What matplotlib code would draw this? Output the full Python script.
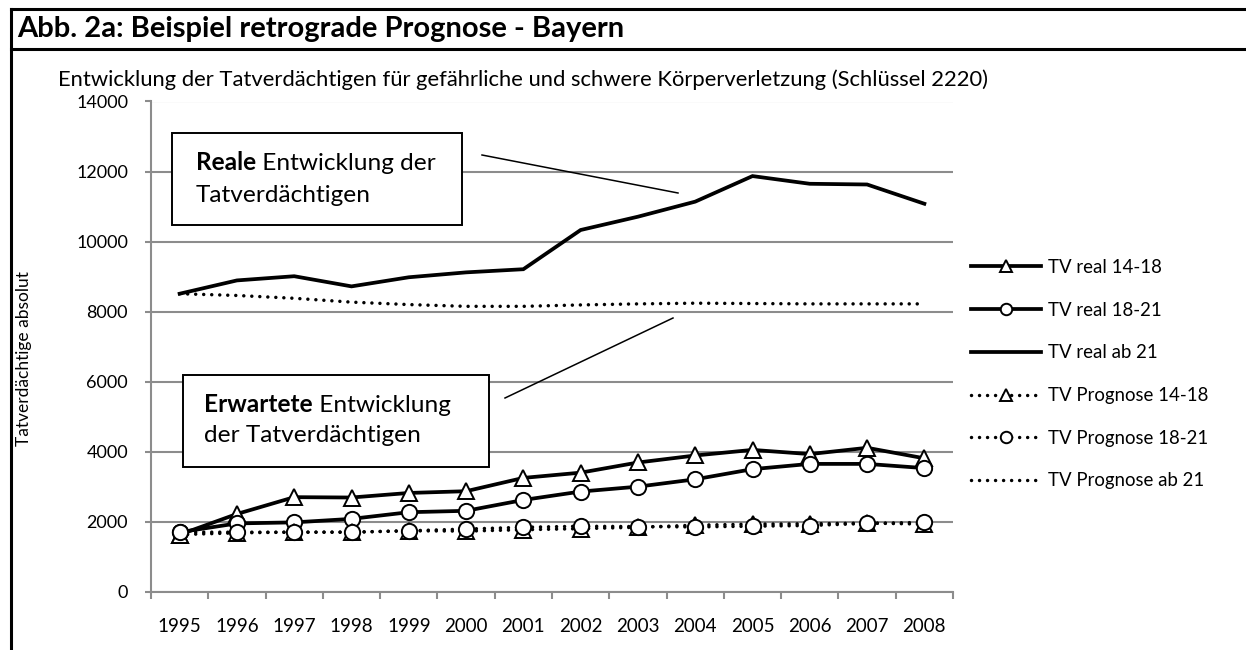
import matplotlib.pyplot as plt
from matplotlib.lines import Line2D
from matplotlib.patches import Rectangle

plt.rcParams['font.family'] = ['Lato', 'DejaVu Sans']

years = [str(y) for y in range(1995, 2009)]
real_14_18 = [1630, 2220, 2700, 2690, 2820, 2870, 3250, 3400, 3690, 3890, 4050, 3930, 4110, 3810]
real_18_21 = [1700, 1950, 1980, 2080, 2270, 2310, 2620, 2860, 3000, 3210, 3500, 3650, 3650, 3530]
real_ab_21 = [8510, 8890, 9010, 8720, 8980, 9120, 9210, 10330, 10710, 11140, 11870, 11650, 11630, 11080]
prog_14_18 = [1630, 1680, 1700, 1700, 1740, 1730, 1770, 1800, 1840, 1900, 1930, 1940, 1960, 1930]
prog_18_21 = [1700, 1700, 1700, 1700, 1740, 1790, 1840, 1870, 1860, 1850, 1870, 1890, 1950, 1980]
prog_ab_21 = [8510, 8460, 8380, 8270, 8200, 8150, 8150, 8190, 8220, 8240, 8230, 8220, 8220, 8220]
labels = ["TV real 14-18", "TV real 18-21", "TV real ab 21",
          "TV Prognose 14-18", "TV Prognose 18-21", "TV Prognose ab 21"]

W, H = 1246, 650
fig = plt.figure(figsize=(W / 100, H / 100), dpi=100)


def fx(px):
    return px / W


def fy(py):
    return 1 - py / H


# frame lines of the figure box
for xs, ys in [((11, W), (9, 9)), ((11, W), (49, 49)), ((11, 11), (9, H))]:
    fig.add_artist(Line2D([fx(x) for x in xs], [fy(y) for y in ys], color="black", lw=2.2))

fig.text(fx(17), fy(29), "Abb. 2a: Beispiel retrograde Prognose - Bayern",
         fontsize=21, fontweight="bold", va="center", ha="left")
fig.text(fx(58), fy(80), "Entwicklung der Tatverdächtigen für gefährliche und schwere Körperverletzung (Schlüssel 2220)",
         fontsize=15.8, va="center", ha="left")

ax = fig.add_axes([fx(151), fy(591.7), fx(953 - 151), (591.7 - 101.5) / H])
x = list(range(len(years)))

solid = dict(color="black", lw=2.7, solid_joinstyle="miter")
dotted = dict(color="black", lw=2.5, linestyle=(0, (0.01, 2.3)), dash_capstyle="round")
mk = dict(markersize=11, markerfacecolor="white", markeredgecolor="black", markeredgewidth=1.4)

h1, = ax.plot(x, real_14_18, marker="^", **solid, **mk)
h2, = ax.plot(x, real_18_21, marker="o", **solid, **mk)
h3, = ax.plot(x, real_ab_21, **solid)
h4, = ax.plot(x, prog_14_18, marker="^", **dotted, **mk)
h5, = ax.plot(x, prog_18_21, marker="o", **dotted, **mk)
h6, = ax.plot(x, prog_ab_21, **dotted)

ax.set_xlim(-0.5, len(years) - 0.5)
ax.set_ylim(0, 14000)
ax.set_yticks(range(0, 14001, 2000))
ax.set_xticks(x)
ax.set_xticklabels(years)
ax.set_xticks([i - 0.5 for i in range(len(years) + 1)], minor=True)
ax.grid(axis="y", color="#8c8c8c", lw=1.5)
ax.set_axisbelow(True)
for s in ["top", "right"]:
    ax.spines[s].set_visible(False)
for s in ["left", "bottom"]:
    ax.spines[s].set_color("#8c8c8c")
    ax.spines[s].set_linewidth(1.5)
ax.tick_params(axis="x", which="major", length=0, pad=19, labelsize=13.5)
ax.tick_params(axis="x", which="minor", length=5, width=1.5, color="#8c8c8c")
ax.tick_params(axis="y", length=4.5, width=1.5, color="#8c8c8c", pad=12, labelsize=13)
ax.set_ylabel("Tatverdächtige absolut", fontsize=12.5)
ax.yaxis.set_label_coords(fx(32 - 151) / fx(953 - 151), 0.475)

fig.legend([h1, h2, h3, h4, h5, h6], labels, loc="upper left",
           bbox_to_anchor=(fx(971), fy(259)), frameon=False, fontsize=13.4,
           handlelength=3.75, handletextpad=0.4, labelspacing=1.38,
           markerscale=0.75, borderpad=0, borderaxespad=0)


# annotation boxes, first word bold
def note(x0, y0, x1, y1, bold, rest, line2, tx, ty1, ty2):
    fig.add_artist(Rectangle((fx(x0), fy(y1)), fx(x1 - x0), (y1 - y0) / H,
                             facecolor="white", edgecolor="black", lw=1.4))
    t = fig.text(fx(tx), fy(ty1), bold, fontsize=17.6, fontweight="bold", va="center", ha="left")
    fig.add_artist(plt.Annotation(" " + rest, xy=(1, 0), xycoords=t, va="bottom", ha="left", fontsize=17.6))
    fig.text(fx(tx), fy(ty2), line2, fontsize=17.6, va="center", ha="left")


note(172, 133, 462, 225, "Reale", "Entwicklung der", "Tatverdächtigen", 196, 163, 196)
note(183, 375, 489, 467, "Erwartete", "Entwicklung", "der Tatverdächtigen", 204, 405, 436)
fig.add_artist(Line2D([fx(482), fx(678)], [fy(155), fy(193)], color="black", lw=1.1))
fig.add_artist(Line2D([fx(505), fx(673)], [fy(398), fy(318)], color="black", lw=1.1))

fig.savefig("out.png", dpi=100)
